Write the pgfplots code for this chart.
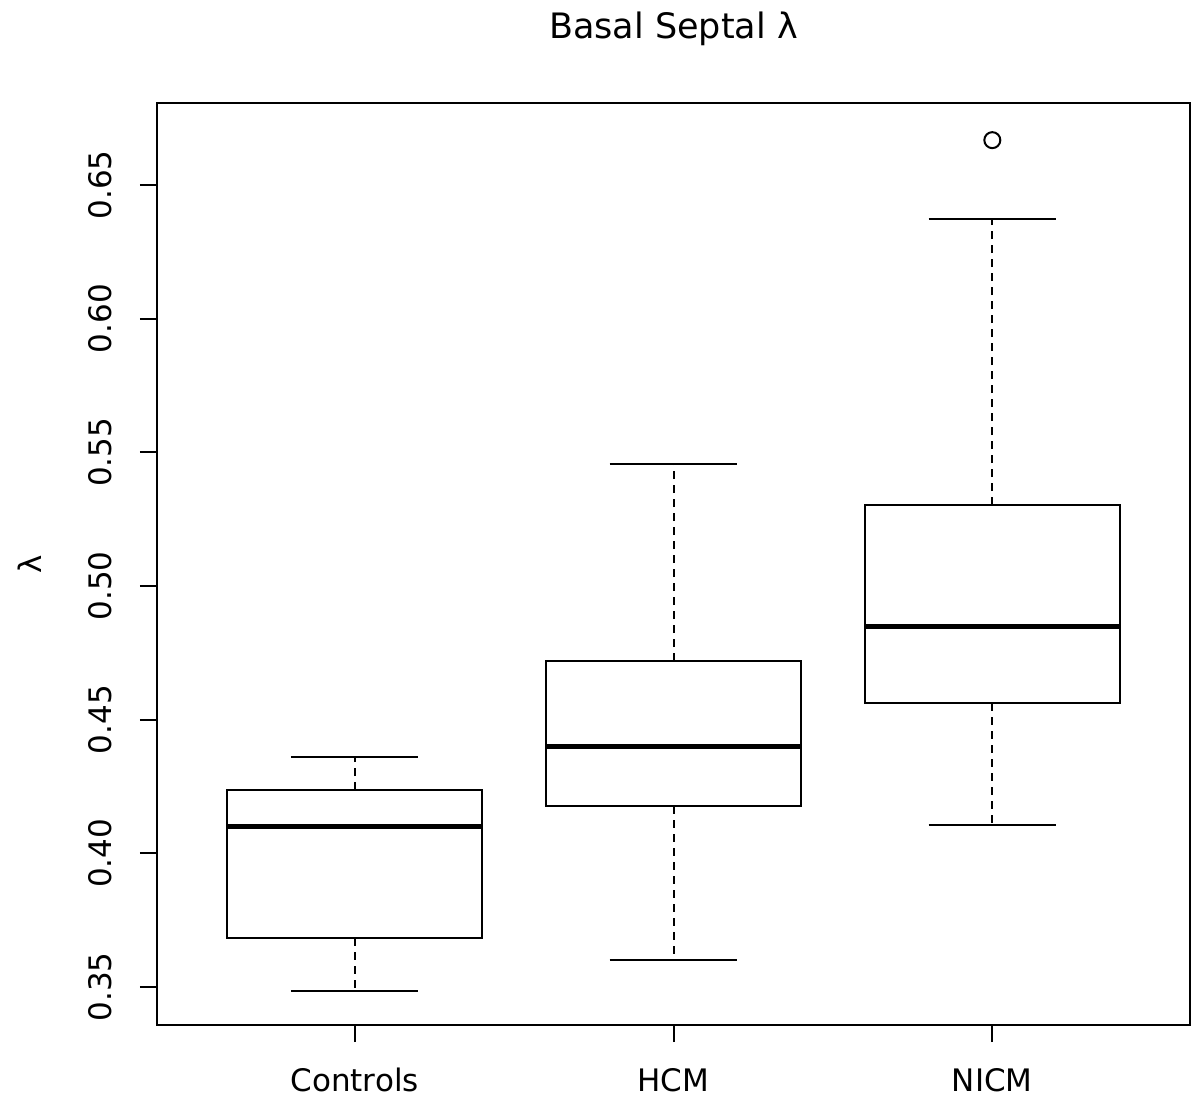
\documentclass[border=0pt]{standalone}
\usepackage{fontspec}
\setmainfont{DejaVu Sans}
\usepackage{pgfplots}
\pgfplotsset{compat=1.18}
\usepgfplotslibrary{statistics}

% R-style box: dashed whisker stem, solid cap, thick median
\pgfplotsset{
  rbox/.style={
    black, solid, line width=1pt,
    mark=o, mark size=4pt, mark options={solid, line width=1pt},
    boxplot/draw direction=y,
    boxplot/box extend=0.8,
    boxplot/whisker extend=0.4,
    boxplot/every median/.style={line width=2.6pt},
    boxplot/draw/lower whisker/.code={
      \draw[line width=1pt, dash pattern=on 4pt off 3pt]
        (boxplot box cs:\pgfplotsboxplotvalue{lower quartile},0.5) --
        (boxplot box cs:\pgfplotsboxplotvalue{lower whisker},0.5);
      \draw[line width=1pt]
        (boxplot whisker cs:\pgfplotsboxplotvalue{lower whisker},0) --
        (boxplot whisker cs:\pgfplotsboxplotvalue{lower whisker},1);
    },
    boxplot/draw/upper whisker/.code={
      \draw[line width=1pt, dash pattern=on 4pt off 3pt]
        (boxplot box cs:\pgfplotsboxplotvalue{upper quartile},0.5) --
        (boxplot box cs:\pgfplotsboxplotvalue{upper whisker},0.5);
      \draw[line width=1pt]
        (boxplot whisker cs:\pgfplotsboxplotvalue{upper whisker},0) --
        (boxplot whisker cs:\pgfplotsboxplotvalue{upper whisker},1);
    },
  },
}

\begin{document}
\begin{tikzpicture}
\begin{axis}[
  scale only axis,
  width=516.5pt, height=461pt,
  xmin=0.38, xmax=3.62,
  ymin=0.3358, ymax=0.6807,
  xtick={1,2,3},
  xticklabels={Controls,HCM,NICM},
  ytick={0.35,0.40,0.45,0.50,0.55,0.60,0.65},
  /pgf/number format/fixed,
  /pgf/number format/fixed zerofill,
  /pgf/number format/precision=2,
  /pgf/number format/assume math mode=true,
  yticklabel style={rotate=90, anchor=south, inner sep=0pt},
  xticklabel style={anchor=north, inner sep=0pt},
  yticklabel shift=14pt,
  xticklabel shift=13pt,
  xtick pos=bottom, ytick pos=left,
  tick align=outside,
  major tick length=8.5pt,
  tick style={black, line width=1pt},
  axis line style={black, line width=1pt},
  every tick label/.append style={font=\fontsize{15.5}{18}\selectfont},
  ylabel={λ},
  ylabel style={at={(axis description cs:-0.123,0.5)}, anchor=center, font=\fontsize{15.5}{18}\selectfont},
  title={Basal Septal λ},
  title style={at={(axis description cs:0.5,1.067)}, anchor=center, font=\fontsize{17.5}{20}\selectfont},
]
\addplot+[rbox, boxplot prepared={draw position=1,
  lower whisker=0.3485, lower quartile=0.3683, median=0.4102,
  upper quartile=0.4237, upper whisker=0.4360}] coordinates {};
\addplot+[rbox, boxplot prepared={draw position=2,
  lower whisker=0.3601, lower quartile=0.4177, median=0.4401,
  upper quartile=0.4719, upper whisker=0.5456}] coordinates {};
\addplot+[rbox, boxplot prepared={draw position=3,
  lower whisker=0.4106, lower quartile=0.4562, median=0.4850,
  upper quartile=0.5303, upper whisker=0.6373}] coordinates {(0,0.6668)};
\end{axis}
\pgfresetboundingbox
\path[use as bounding box]
  ([xshift=-78.5pt,yshift=-39.5pt]current axis.south west)
  rectangle ([xshift=5pt,yshift=51.5pt]current axis.north east);
\end{tikzpicture}
\end{document}
